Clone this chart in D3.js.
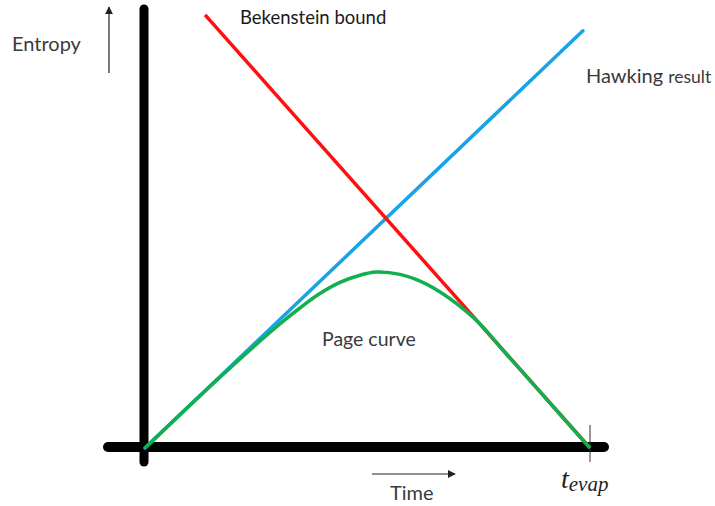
<!DOCTYPE html>
<html>
<head>
<meta charset="utf-8">
<script src="https://cdn.jsdelivr.net/npm/d3@7"></script>
<style>
  body { margin: 0; background: #fff; }
  text { font-family: Lato, sans-serif; fill: #3a3a3a; }
</style>
</head>
<body>
<div id="chart"></div>
<script>
// time in units of t_evap, entropy in arbitrary units
const hawkingT = [0, 0.984];
const hawkingS = [0, 1.043];

const bekensteinT = [0.135, 1.0];
const bekensteinS = [1.083, 0];

const pageT = [0, 0.124, 0.236, 0.303, 0.348, 0.393, 0.438, 0.483, 0.52, 0.573, 0.618, 0.663, 0.708, 0.753, 0.80, 0.87, 0.94, 1.0];
const pageS = [0, 0.131, 0.245, 0.31, 0.35, 0.386, 0.414, 0.432, 0.44, 0.434, 0.417, 0.39, 0.354, 0.31, 0.25, 0.163, 0.075, 0];

const width = 715, height = 506;

const svg = d3.select("#chart")
  .append("svg")
  .attr("width", width)
  .attr("height", height);

const x = d3.scaleLinear().domain([0, 1]).range([145, 590]);
const y = d3.scaleLinear().domain([0, 1]).range([448, 48]);

const line = d3.line()
  .x(d => x(d[0]))
  .y(d => y(d[1]));

// axes
svg.append("line")
  .attr("x1", 144).attr("x2", 144)
  .attr("y1", 9).attr("y2", 462)
  .attr("stroke", "black").attr("stroke-width", 9)
  .attr("stroke-linecap", "round");

svg.append("line")
  .attr("x1", 108).attr("x2", 604)
  .attr("y1", 447).attr("y2", 447)
  .attr("stroke", "black").attr("stroke-width", 10)
  .attr("stroke-linecap", "round");

// t_evap tick
svg.append("line")
  .attr("x1", x(1)).attr("x2", x(1))
  .attr("y1", 425).attr("y2", 462)
  .attr("stroke", "#333").attr("stroke-width", 1);

// series
svg.append("path")
  .datum(d3.zip(hawkingT, hawkingS))
  .attr("d", line)
  .attr("fill", "none")
  .attr("stroke", "#19a3e6")
  .attr("stroke-width", 3.5)
  .attr("stroke-linecap", "round");

svg.append("path")
  .datum(d3.zip(bekensteinT, bekensteinS))
  .attr("d", line)
  .attr("fill", "none")
  .attr("stroke", "#ff1010")
  .attr("stroke-width", 3.5);

svg.append("path")
  .datum(d3.zip(pageT, pageS))
  .attr("d", line.curve(d3.curveCatmullRom))
  .attr("fill", "none")
  .attr("stroke", "#10b050")
  .attr("stroke-width", 3.5);

// arrows
const defs = svg.append("defs");
defs.append("marker")
  .attr("id", "arr")
  .attr("viewBox", "0 0 10 10")
  .attr("refX", 9).attr("refY", 5)
  .attr("markerWidth", 8).attr("markerHeight", 8)
  .attr("markerUnits", "userSpaceOnUse")
  .attr("orient", "auto")
  .append("path")
  .attr("d", "M0,0L10,5L0,10Z")
  .attr("fill", "#222");

svg.append("line")
  .attr("x1", 109).attr("x2", 109)
  .attr("y1", 73).attr("y2", 7)
  .attr("stroke", "#222").attr("stroke-width", 1.2)
  .attr("marker-end", "url(#arr)");

svg.append("line")
  .attr("x1", 372).attr("x2", 455)
  .attr("y1", 474).attr("y2", 474)
  .attr("stroke", "#222").attr("stroke-width", 1.2)
  .attr("marker-end", "url(#arr)");

// labels
svg.append("text").attr("x", 12).attr("y", 51)
  .style("font-size", "20px").text("Entropy");

svg.append("text").attr("x", 240).attr("y", 24)
  .style("font-size", "18.5px").style("fill", "#1a1a1a").text("Bekenstein bound");

const hk = svg.append("text").attr("x", 586).attr("y", 83)
  .style("font-size", "20px");
hk.append("tspan").text("Hawking ");
hk.append("tspan").style("font-size", "17.5px").text("result");

svg.append("text").attr("x", 322).attr("y", 346)
  .style("font-size", "19.5px").text("Page curve");

svg.append("text").attr("x", 390).attr("y", 500)
  .style("font-size", "20px").text("Time");

const te = svg.append("text").attr("x", 561).attr("y", 488)
  .style("font-family", "'Liberation Serif', serif")
  .style("font-style", "italic")
  .style("fill", "#222")
  .style("font-size", "28px");
te.append("tspan").text("t");
te.append("tspan").attr("dy", 3).style("font-size", "21px").text("evap");
</script>
</body>
</html>
